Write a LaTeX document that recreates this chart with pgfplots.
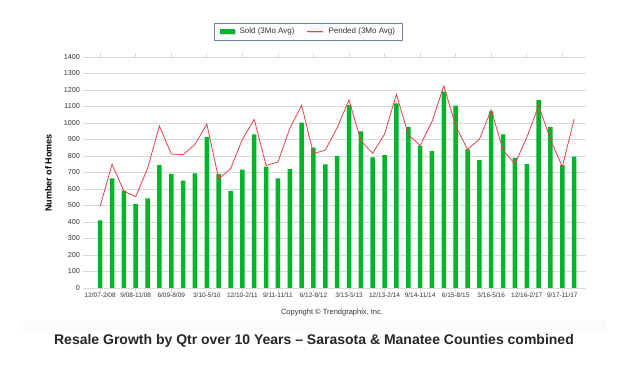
\documentclass[border=0pt]{standalone}
\usepackage{fontspec}
\setmainfont{Liberation Sans}
\usepackage{pgfplots}
\pgfplotsset{compat=1.18}
\usetikzlibrary{shadows}
\definecolor{soldgreen}{HTML}{00B52A}
\definecolor{pendred}{HTML}{E8404A}
\definecolor{gridgray}{HTML}{DADADA}
\definecolor{txtgray}{HTML}{333333}
\definecolor{legborder}{HTML}{6F7F9F}
\begin{document}
\begin{tikzpicture}[x=1pt,y=1pt]
\path (0,0) rectangle (625,388);
\fill[gray!3] (20,58) rectangle (606,68);
\begin{axis}[
  at={(83pt,100pt)}, anchor=south west,
  scale only axis, width=503pt, height=231pt,
  xmin=-1.45, xmax=41.0, ymin=0, ymax=1400,
  axis line style={draw=none},
  ytick={0,100,...,1400},
  ymajorgrids, grid style={gridgray, line width=0.9pt},
  xtick={0,3,...,39},
  xticklabels={12/07-2/08,9/08-11/08,6/09-8/09,3/10-5/10,12/10-2/11,9/11-11/11,6/12-8/12,3/13-5/13,12/13-2/14,9/14-11/14,6/15-8/15,3/16-5/16,12/16-2/17,9/17-11/17},
  tick align=outside, major tick length=4pt,
  xtick style={draw=gridgray, line width=0.8pt},
  ytick style={draw=none},
  /pgf/number format/assume math mode=true,
  /pgf/number format/1000 sep={},
  xticklabel style={font=\fontsize{6.5}{7}\selectfont, text=txtgray, inner sep=1pt},
  yticklabel style={font=\fontsize{7.2}{8}\selectfont, text=txtgray, inner sep=0pt, xshift=1pt},
  ylabel={\textbf{Number of Homes}},
  every axis y label/.style={at={(axis description cs:-0.0686,0.498)}, rotate=90, anchor=center, font=\fontsize{9}{10}\selectfont, text=black},
  legend columns=2,
  legend style={at={(axis description cs:0.448,1.110)}, anchor=center, draw=legborder, line width=0.8pt,
    fill=white, drop shadow={opacity=0.25, shadow xshift=1pt, shadow yshift=-1pt},
    font=\fontsize{8}{9}\selectfont, text=txtgray, inner xsep=5pt, inner ysep=3pt,
    /tikz/every odd column/.append style={column sep=3pt},
    /tikz/every even column/.append style={column sep=10pt}},
]
\addplot[ybar, bar width=4.5pt, fill=soldgreen, draw=none,
  legend image code/.code={\fill[soldgreen] (0pt,-2.8pt) rectangle (15pt,2.8pt);}]
  coordinates {
  (0,410) (1,665) (2,590) (3,508) (4,543) (5,745) (6,692) (7,650) (8,694) (9,915)
  (10,692) (11,589) (12,717) (13,931) (14,735) (15,665) (16,721) (17,1002) (18,850) (19,749)
  (20,800) (21,1109) (22,949) (23,791) (24,806) (25,1119) (26,976) (27,863) (28,830) (29,1190)
  (30,1105) (31,840) (32,775) (33,1071) (34,931) (35,789) (36,751) (37,1138) (38,976) (39,745)
  (40,796)
  };
\addlegendentry{Sold (3Mo Avg)}
\addplot[pendred, line width=0.8pt, mark=none,
  legend image code/.code={\draw[pendred, line width=1pt] (0pt,0pt) -- (16pt,0pt);}]
  coordinates {
  (0,496) (1,749) (2,588) (3,553) (4,725) (5,982) (6,812) (7,808) (8,870) (9,994)
  (10,662) (11,722) (12,901) (13,1022) (14,743) (15,763) (16,966) (17,1107) (18,814) (19,836)
  (20,972) (21,1140) (22,893) (23,816) (24,933) (25,1174) (26,930) (27,864) (28,1008) (29,1225)
  (30,982) (31,840) (32,901) (33,1079) (34,836) (35,751) (36,911) (37,1105) (38,901) (39,735)
  (40,1024)
  };
\addlegendentry{Pended (3Mo Avg)}
\end{axis}
\node[font=\fontsize{7.5}{8}\selectfont, text=txtgray] at (332,75) {Copyright \textcopyright\ Trendgraphix, Inc.};
\node[font=\fontsize{14}{16}\selectfont\bfseries, text=black!85] at (314,47) {Resale Growth by Qtr over 10 Years – Sarasota \& Manatee Counties combined};
\end{tikzpicture}
\end{document}
